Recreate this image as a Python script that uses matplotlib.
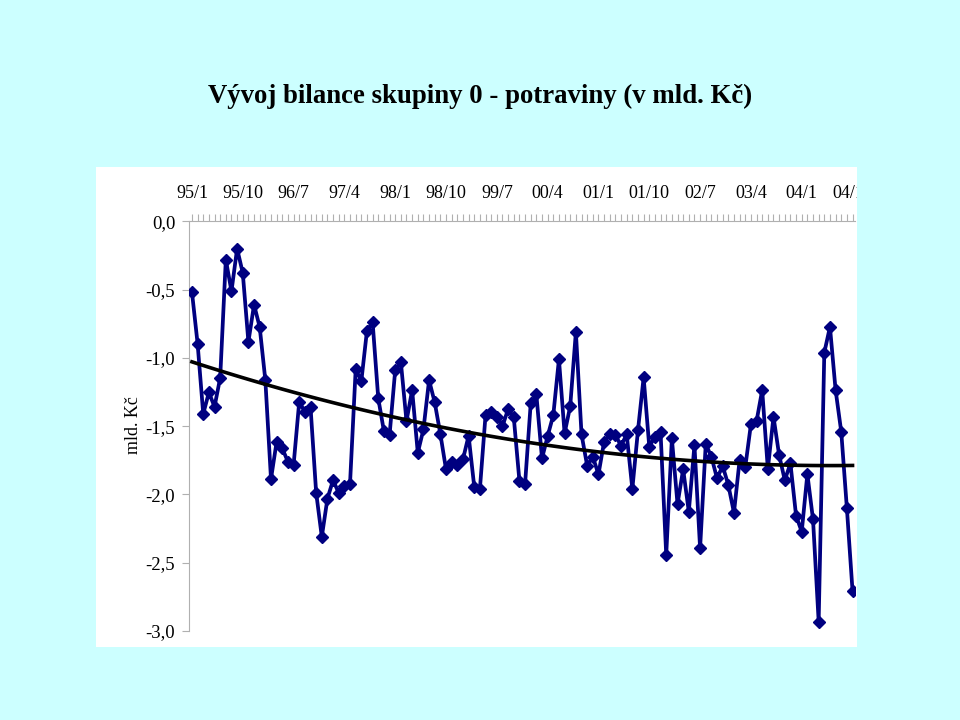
import numpy as np
import matplotlib.pyplot as plt
from matplotlib.patches import Rectangle
from matplotlib.ticker import MultipleLocator, FixedLocator, FuncFormatter
from matplotlib.transforms import Bbox, TransformedBbox

# monthly balance 95/1 .. 04/10 (mld. Kc)
values = [
    -0.517, -0.895, -1.41, -1.253, -1.358, -1.146, -0.28, -0.512, -0.20, -0.378,
    -0.883, -0.61, -0.775, -1.163, -1.887, -1.614, -1.663, -1.76, -1.785, -1.322,
    -1.395, -1.358, -1.987, -2.31, -2.03, -1.895, -1.99, -1.94, -1.92, -1.083,
    -1.17, -0.80, -0.74, -1.297, -1.536, -1.565, -1.09, -1.03, -1.463, -1.236,
    -1.695, -1.524, -1.163, -1.326, -1.558, -1.816, -1.76, -1.785, -1.743, -1.57,
    -1.944, -1.96, -1.419, -1.395, -1.43, -1.50, -1.375, -1.436, -1.90, -1.924,
    -1.334, -1.268, -1.736, -1.573, -1.419, -1.01, -1.553, -1.353, -0.81, -1.56,
    -1.79, -1.724, -1.853, -1.614, -1.56, -1.565, -1.644, -1.56, -1.96, -1.529,
    -1.143, -1.651, -1.578, -1.546, -2.443, -1.59, -2.07, -1.816, -2.126, -1.639,
    -2.394, -1.631, -1.724, -1.882, -1.792, -1.931, -2.134, -1.748, -1.80, -1.487,
    -1.463, -1.236, -1.814, -1.431, -1.712, -1.895, -1.773, -2.156, -2.273, -1.851,
    -2.183, -2.931, -0.961, -0.773, -1.236, -1.541, -2.102, -2.707,
]
tick_labels = ['95/1', '95/10', '96/7', '97/4', '98/1', '98/10', '99/7',
               '00/4', '01/1', '01/10', '02/7', '03/4', '04/1', '04/10']
y_ticks = [0.0, -0.5, -1.0, -1.5, -2.0, -2.5, -3.0]

plt.rcParams['font.family'] = ['Liberation Serif', 'DejaVu Serif']

x = np.arange(len(values))
y = np.array(values)

# polynomial (2nd order) trend like in Excel
coef = np.polyfit(x, y, 2)
trend = np.polyval(coef, x)

fig = plt.figure(figsize=(9.6, 7.2), dpi=100, facecolor='#CCFFFF')
white = Rectangle((0.1, 0.101), 0.793, 0.667, transform=fig.transFigure,
                  facecolor='white', edgecolor='none', zorder=-5)
fig.patches.append(white)

ax = fig.add_axes([0.197, 0.1236, 0.694, 0.569])
ax.set_facecolor('none')

ax.plot(x, y, color='#000080', linewidth=2.7, marker='D', markersize=6,
        zorder=3)
ax.plot(x, trend, color='black', linewidth=2.6, zorder=4)

ax.set_xlim(-0.5, len(values) - 0.5)
ax.set_ylim(-3.0, 0.0)

ax.xaxis.set_major_locator(FixedLocator(np.arange(0, len(values), 9)))
ax.set_xticklabels(tick_labels)
ax.xaxis.set_minor_locator(MultipleLocator(1))
ax.tick_params(axis='x', which='both', top=True, bottom=False, labeltop=True,
               labelbottom=False, direction='out', length=5, width=0.8,
               color='#B0B0B0', pad=9, labelsize=13)

ax.set_yticks(y_ticks)
ax.yaxis.set_major_formatter(FuncFormatter(lambda v, p: f'{v:.1f}'.replace('.', ',')))
ax.tick_params(axis='y', direction='out', length=5, width=0.8,
               color='#B0B0B0', pad=5, labelsize=13.5)

for s in ['right', 'bottom']:
    ax.spines[s].set_visible(False)
for s in ['left', 'top']:
    ax.spines[s].set_color('#B0B0B0')
    ax.spines[s].set_linewidth(0.8)

clip = TransformedBbox(Bbox([[0.1, 0.101], [0.893, 0.768]]), fig.transFigure)
for lbl in ax.get_xticklabels():
    lbl.set_clip_on(True)
    lbl.set_clip_box(clip)

fig.text(0.5, 0.866, 'Vývoj bilance skupiny 0 - potraviny (v mld. Kč)',
         ha='center', va='center', fontsize=19.3, fontweight='bold')
fig.text(0.1395, 0.41, 'mld. Kč', rotation=90, ha='center', va='center',
         fontsize=13)

fig.savefig('out.png', dpi=100, facecolor=fig.get_facecolor())
